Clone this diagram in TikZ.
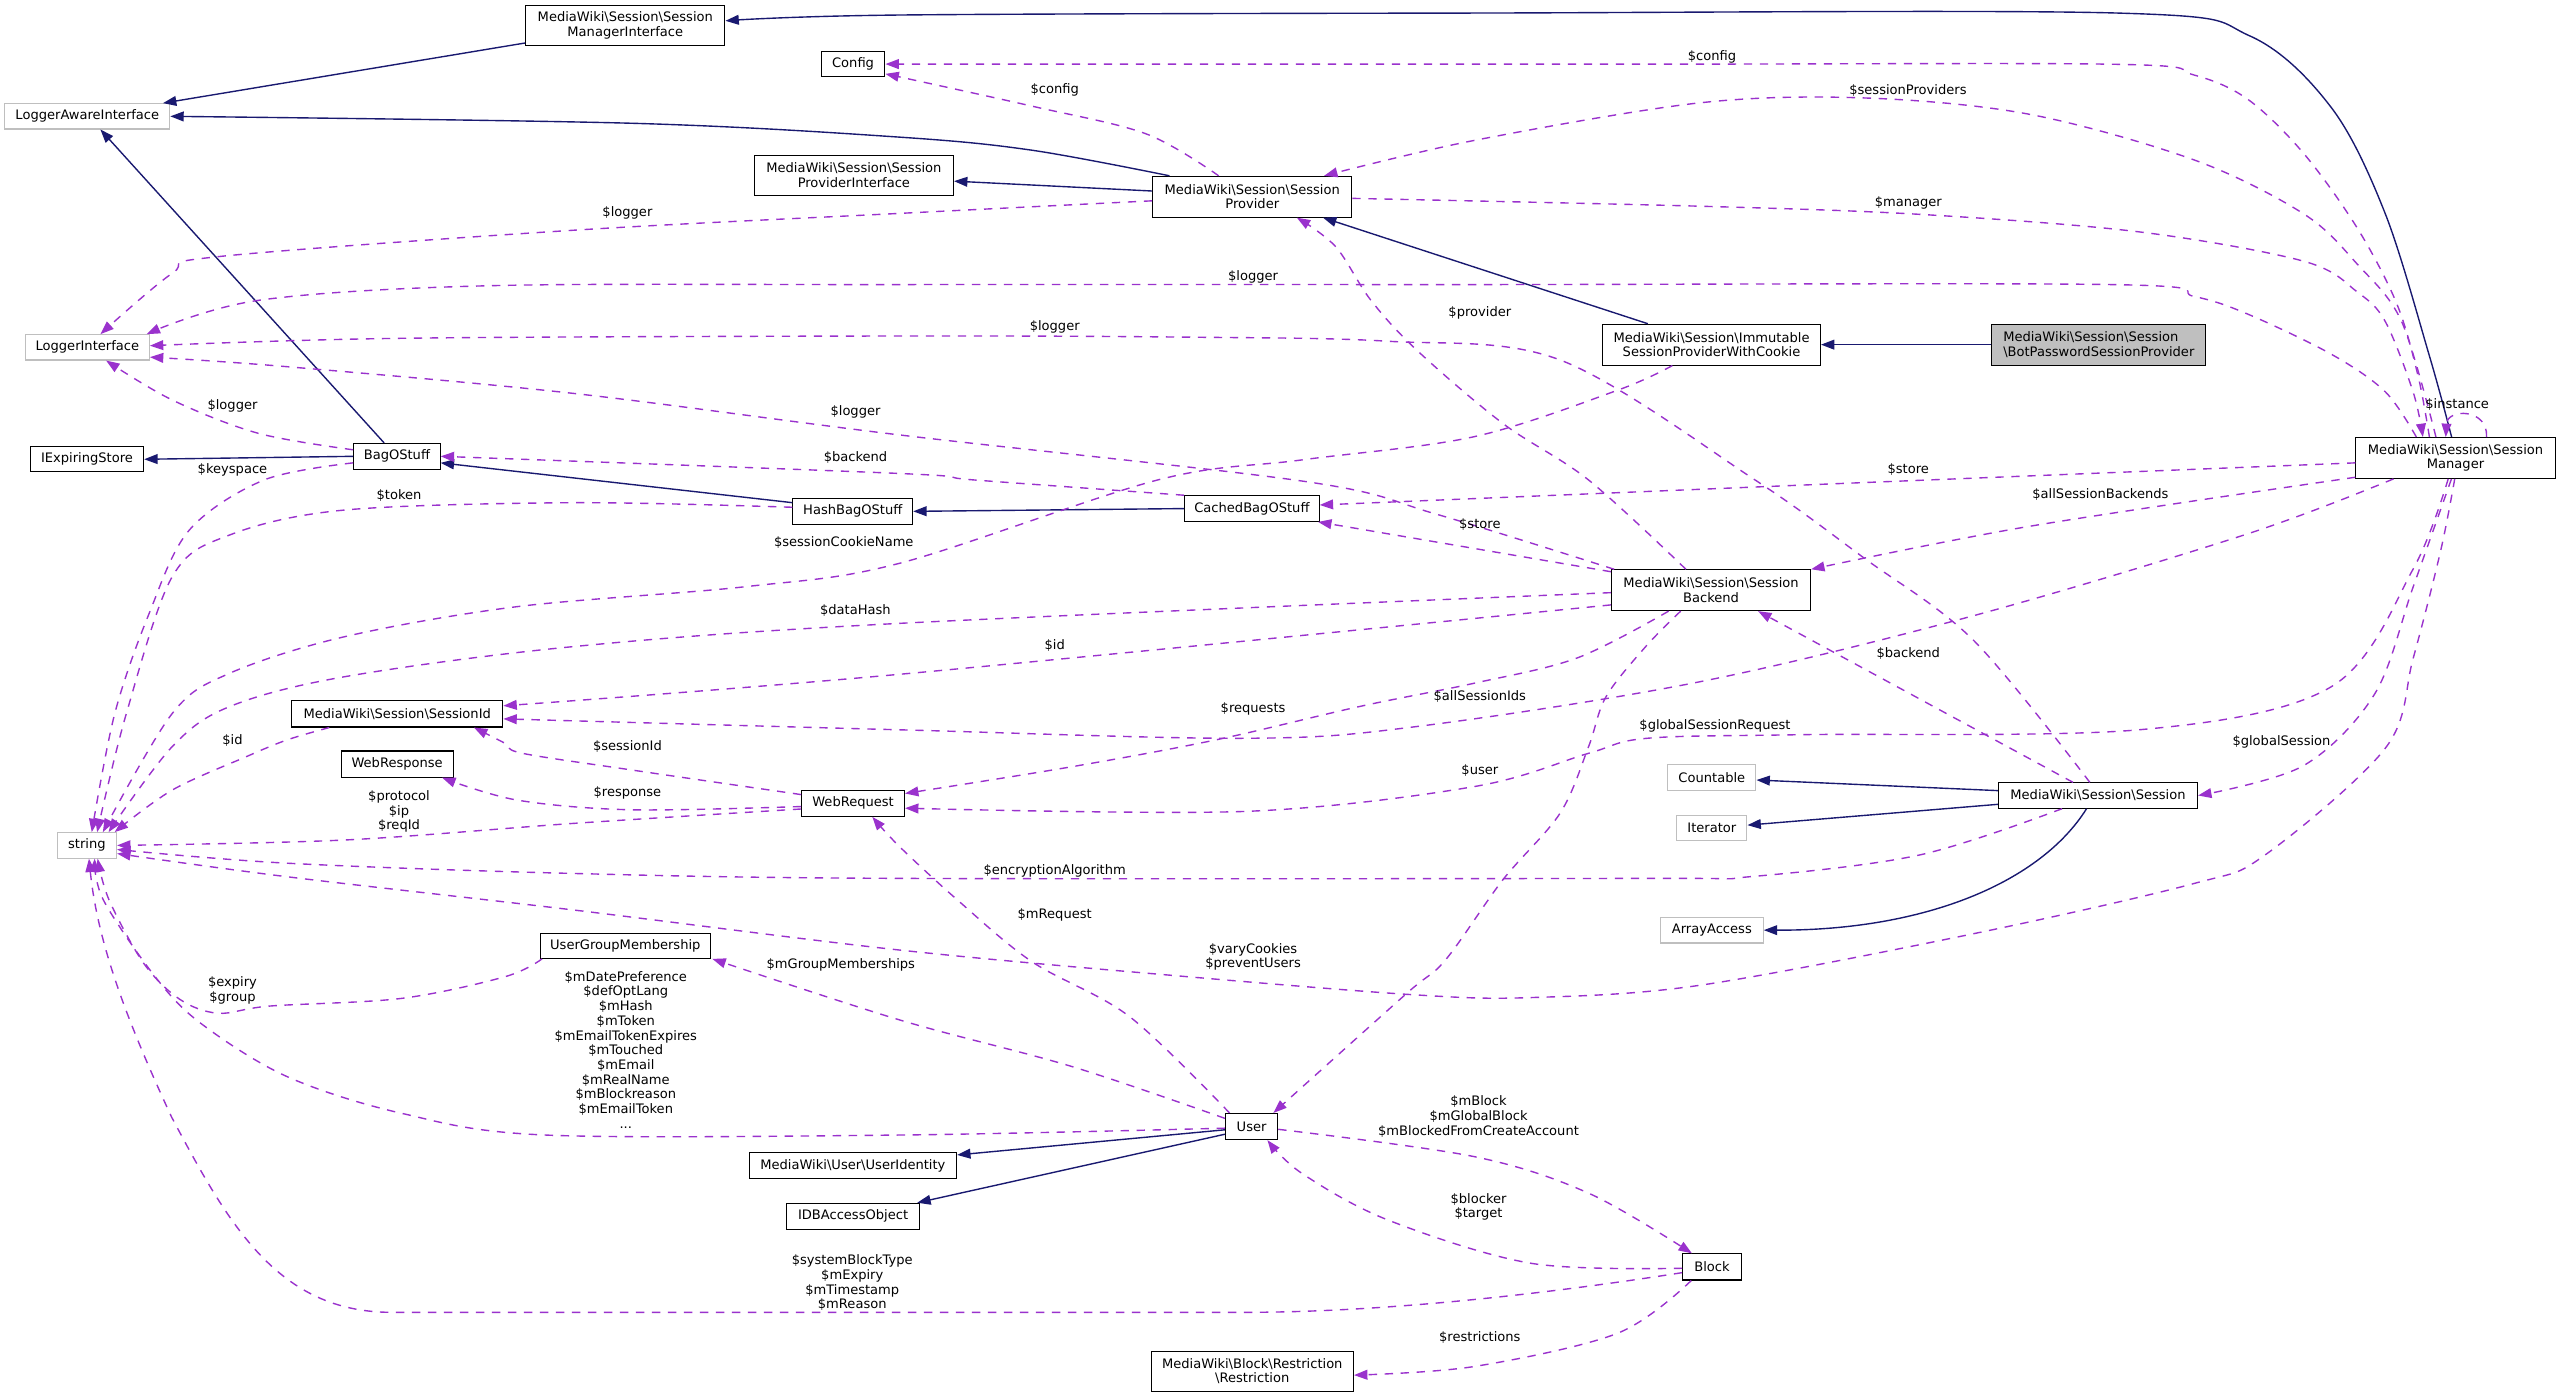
\documentclass[tikz,border=0pt]{standalone}
\usepackage{fontspec}
\setmainfont{DejaVu Sans}
\usetikzlibrary{arrows.meta,calc}
\definecolor{docnavy}{HTML}{191970}
\definecolor{docorchid}{HTML}{9A32CD}
\definecolor{docgray}{HTML}{BFBFBF}
\newcommand{\mybs}{\textbackslash}
\begin{document}
\begin{tikzpicture}[x=1pt,y=-1pt,
  cls/.style={draw=black, line width=0.65pt, fill=white, inner sep=0pt, align=center, font=\fontsize{8}{9}\selectfont},
  extcls/.style={cls, draw=docgray},
  lbl/.style={inner sep=0pt, align=center, font=\fontsize{8}{9}\selectfont},
  inh/.style={draw=docnavy, line width=0.85pt, -{Triangle[length=8.2pt,width=6pt]}},
  use/.style={draw=docorchid, line width=0.85pt, dash pattern=on 5.1pt off 4.7pt, -{Triangle[length=8.2pt,width=6pt]}},
  curvy/.style={smooth, tension=0.55}
]
\useasboundingbox (0,0) rectangle (1568,856);
\fill[white] (0,0) rectangle (1568,856);

% ---------- nodes ----------
\node[cls, minimum width=122pt, minimum height=24.5pt] (smi) at (383,15.75) {MediaWiki\mybs Session\mybs Session\\ManagerInterface};
\node[cls, minimum width=39pt, minimum height=15.5pt] (config) at (522.5,39.25) {Config};
\node[extcls, minimum width=101pt, minimum height=15.5pt] (lai) at (53.5,71.25) {LoggerAwareInterface};
\node[cls, minimum width=122pt, minimum height=24.5pt] (spi) at (523,107.25) {MediaWiki\mybs Session\mybs Session\\ProviderInterface};
\node[cls, minimum width=122pt, minimum height=25pt] (sp) at (767,120.5) {MediaWiki\mybs Session\mybs Session\\Provider};
\node[extcls, minimum width=76pt, minimum height=15.5pt] (li) at (53.5,212.75) {LoggerInterface};
\node[cls, minimum width=133.4pt, minimum height=25pt] (imm) at (1048.3,211.1) {MediaWiki\mybs Session\mybs Immutable\\SessionProviderWithCookie};
\node[cls, fill=docgray, align=left, minimum width=131pt, minimum height=25pt] (bot) at (1285.5,211.1) {MediaWiki\mybs Session\mybs Session\\\mybs BotPasswordSessionProvider};
\node[cls, minimum width=122pt, minimum height=25pt] (sm) at (1504,280.5) {MediaWiki\mybs Session\mybs Session\\Manager};
\node[cls, minimum width=69.4pt, minimum height=15.5pt] (ies) at (53.3,281.3) {IExpiringStore};
\node[cls, minimum width=53pt, minimum height=15.8pt] (bag) at (243.1,279.5) {BagOStuff};
\node[cls, minimum width=73.4pt, minimum height=16pt] (hash) at (522.3,313.2) {HashBagOStuff};
\node[cls, minimum width=82.4pt, minimum height=15.7pt] (cached) at (766.8,311.5) {CachedBagOStuff};
\node[cls, minimum width=122pt, minimum height=25pt] (sb) at (1048,361.5) {MediaWiki\mybs Session\mybs Session\\Backend};
\node[cls, minimum width=129.4pt, minimum height=16pt] (sid) at (243.3,437.3) {MediaWiki\mybs Session\mybs SessionId};
\node[cls, minimum width=68.5pt, minimum height=16pt] (wresp) at (243.25,468) {WebResponse};
\node[cls, minimum width=63pt, minimum height=16pt] (wreq) at (522.5,492) {WebRequest};
\node[extcls, minimum width=36.4pt, minimum height=15.6pt] (str) at (53.2,517.8) {string};
\node[extcls, minimum width=54pt, minimum height=15.5pt] (countable) at (1048.5,476.25) {Countable};
\node[extcls, minimum width=43pt, minimum height=15.5pt] (iterator) at (1048.5,507.3) {Iterator};
\node[extcls, minimum width=63pt, minimum height=15.8pt] (arrayaccess) at (1048.5,569.7) {ArrayAccess};
\node[cls, minimum width=122pt, minimum height=15.5pt] (session) at (1285,487.25) {MediaWiki\mybs Session\mybs Session};
\node[cls, minimum width=104pt, minimum height=15.5pt] (ugm) at (383,579.25) {UserGroupMembership};
\node[cls, minimum width=32pt, minimum height=16pt] (user) at (766.6,690) {User};
\node[cls, minimum width=127pt, minimum height=16pt] (uid) at (522.4,714) {MediaWiki\mybs User\mybs UserIdentity};
\node[cls, minimum width=81pt, minimum height=16pt] (idb) at (522.5,745) {IDBAccessObject};
\node[cls, minimum width=36pt, minimum height=16pt] (block) at (1048.6,776) {Block};
\node[cls, minimum width=124pt, minimum height=24.5pt] (restr) at (767,839.75) {MediaWiki\mybs Block\mybs Restriction\\\mybs Restriction};

% ---------- end points ----------
\coordinate (a0) at ($(sm.north)+(-2.4,0)$);
\coordinate (a1) at ($(smi.east)+(0,-3)$);
\coordinate (c0) at ($(sp.north west)+(10.6,0)$);
\coordinate (s1) at ($(sm.north)+(-16,0)$);
\coordinate (s2) at ($(sp.north)+(-20.6,0)$);
\coordinate (e2) at ($(config.east)+(0,6)$);
\coordinate (s3) at ($(sm.north)+(-12,0)$);
\coordinate (e3) at ($(sp.north)+(44,0)$);
\coordinate (s4) at ($(sp.east)+(0,1)$);
\coordinate (e4) at ($(sm.north)+(-20,0)$);
\coordinate (s5) at ($(sm.north)+(-24,0)$);
\coordinate (e5) at ($(li.north east)+(-2,0)$);
\coordinate (s6) at ($(sp.west)+(0,2.5)$);
\coordinate (e6) at ($(li.north)+(8,0)$);
\coordinate (s7) at ($(session.north)+(-5,0)$);
\coordinate (e7) at ($(li.east)+(0,-1)$);
\coordinate (s8) at ($(sb.north west)+(2,0)$);
\coordinate (e8) at ($(li.east)+(0,6)$);
\coordinate (s9) at ($(session.north)+(-15.3,0)$);
\coordinate (e9) at ($(sb.south east)+(-32.5,0)$);
\coordinate (s10) at ($(sb.north)+(-15.4,0)$);
\coordinate (e10) at ($(sp.south east)+(-34,0)$);
\coordinate (s11) at ($(sm.west)+(0,3)$);
\coordinate (e11) at ($(cached.east)+(0,-2.2)$);
\coordinate (s12) at ($(sb.north west)+(0,1.5)$);
\coordinate (e12) at ($(cached.south east)+(-1,0)$);
\coordinate (s13) at ($(sm.south west)+(0,-1)$);
\coordinate (s14) at ($(sm.south)+(-38,0)$);
\coordinate (e14) at ($(sid.east)+(0,3)$);
\coordinate (s15) at ($(sb.south)+(-26,0)$);
\coordinate (e15) at ($(wreq.east)+(0,-6)$);
\coordinate (s16) at ($(sm.south)+(-4.5,0)$);
\coordinate (e16) at ($(wreq.east)+(0,3)$);
\coordinate (s17) at ($(sm.south)+(-2.5,0)$);
\coordinate (s18) at ($(sm.south)+(-0.5,0)$);
\coordinate (e18) at ($(str.east)+(0,5)$);
\coordinate (s19) at ($(session.south)+(-22,0)$);
\coordinate (e19) at ($(str.east)+(0,2.5)$);
\coordinate (s20) at ($(wreq.west)+(0,3.5)$);
\coordinate (s21) at ($(wreq.west)+(0,2)$);
\coordinate (e21) at ($(wresp.south east)+(-7,0)$);
\coordinate (s22) at ($(wreq.north west)+(0,3)$);
\coordinate (e22) at ($(sid.south east)+(-18,0)$);
\coordinate (s23) at ($(sid.south west)+(23.4,0)$);
\coordinate (e23) at ($(str.north east)+(-1.5,0)$);
\coordinate (s24) at ($(sb.west)+(0,9)$);
\coordinate (e24) at ($(sid.east)+(0,-5)$);
\coordinate (s25) at ($(sb.west)+(0,1.5)$);
\coordinate (e25) at ($(str.north)+(13.3,0)$);
\coordinate (s26) at ($(imm.south)+(-24,0)$);
\coordinate (e26) at ($(str.north)+(9.8,0)$);
\coordinate (s27) at ($(hash.west)+(0,-2.5)$);
\coordinate (e27) at ($(str.north)+(6.3,0)$);
\coordinate (s28) at ($(bag.west)+(0,4)$);
\coordinate (e28) at ($(str.north)+(3,0)$);
\coordinate (s30) at ($(bag.west)+(0,-4)$);
\coordinate (e30) at ($(li.south)+(11.5,0)$);
\coordinate (s31) at ($(user.west)+(0,1)$);
\coordinate (e31) at ($(str.south)+(4.8,0)$);
\coordinate (s32) at ($(ugm.south west)+(1.3,0)$);
\coordinate (e32) at ($(str.south)+(6.6,0)$);
\coordinate (s33) at ($(block.west)+(0,3.5)$);
\coordinate (e33) at ($(str.south)+(1.3,0)$);
\coordinate (s34) at ($(user.north west)+(2.8,0)$);
\coordinate (e34) at ($(wreq.south)+(11.8,0)$);
\coordinate (s35) at ($(user.west)+(0,-5)$);
\coordinate (e35) at ($(ugm.south east)+(1,0)$);
\coordinate (s36) at ($(user.east)+(0,1.7)$);
\coordinate (e36) at ($(block.north)+(-12.3,0)$);
\coordinate (s37) at ($(block.west)+(0,0.8)$);
\coordinate (e37) at ($(user.south)+(9.7,0)$);
\coordinate (s38) at ($(block.south)+(-12.7,0)$);
\coordinate (e38) at ($(restr.east)+(0,2.5)$);
\coordinate (s39) at ($(sb.south)+(-18.6,0)$);
\coordinate (e39) at ($(user.north east)+(-3,0)$);

% ---------- inheritance (solid) ----------
\draw[inh] plot[curvy] coordinates {(a0) (1488,218) (1461,131) (1428,66) (1378,22) (1297,8) (900,8) (551,9.2) (a1)};
\draw[inh] ($(smi.south west)+(0,-2)$) -- ($(lai.north east)+(-4.5,0)$);
\draw[inh] plot[curvy] coordinates {(c0) (632,92) (551,84) (387,75.5) (lai.east)};
\draw[inh] ($(sp.west)+(0,-3.5)$) -- ($(spi.east)+(0,3.7)$);
\draw[inh] ($(imm.north west)+(28,0)$) -- ($(sp.south east)+(-18,0)$);
\draw[inh] (bot.west) -- (imm.east);
\draw[inh] ($(bag.north west)+(19,0)$) -- ($(lai.south)+(8,0)$);
\draw[inh] (bag.west) -- (ies.east);
\draw[inh] ($(hash.north west)+(0,3)$) -- ($(bag.east)+(0,4)$);
\draw[inh] (cached.west) -- (hash.east);
\draw[inh] ($(session.west)+(0,-3)$) -- ($(countable.east)+(0,1.5)$);
\draw[inh] ($(session.west)+(0,5.4)$) -- ($(iterator.east)+(0,-1.9)$);
\draw[inh] ($(session.south)+(-7,0)$) .. controls (1250,540) and (1180,570) .. (arrayaccess.east);
\draw[inh] ($(user.west)+(0,2)$) -- ($(uid.east)+(0,-6.6)$);
\draw[inh] ($(user.west)+(0,4.7)$) -- ($(idb.north east)+(-1.5,0)$);

% ---------- usage (dashed) ----------
\draw[use] plot[curvy] coordinates {(s1) (1481,230) (1468,186) (1444,140) (1411,94) (1377,61) (1344,46) (1297,39.4) (1000,39.3) (config.east)};
\draw[use] plot[curvy] coordinates {(s2) (702,82) (632,65) (e2)};
\draw[use] plot[curvy] coordinates {(s3) (1471,197) (1444,162) (1411,131) (1344,98) (1243,70) (1142,60) (1041,63) (903,86) (e3)};
\draw[use] plot[curvy] coordinates {(s4) (1041,126.3) (1176,131.3) (1310,142) (1411,160) (1444,179) (1461,197) (1478,240) (e4)};
\draw[use] plot[curvy] coordinates {(s5) (1461,240) (1428,217) (1377,192.5) (1344,181.6) (1293,174.3) (900,174.3) (551,174.3) (300,175) (158,184) (e5)};
\draw[use] plot[curvy] coordinates {(s6) (551,130.7) (351.6,141) (133.6,157.2) (105.5,167.4) (e6)};
\draw[use] plot[curvy] coordinates {(s7) (1209,392.4) (1142,342) (1075,294) (955.6,220.5) (850,209) (727,206.5) (551,205.8) (246,207.2) (e7)};
\draw[use] plot[curvy] coordinates {(s8) (880,315) (800,295) (551,266.4) (351.6,241) (175.8,224.6) (e8)};
\draw[use] (s9) -- (e9);
\draw[use] plot[curvy] coordinates {(s10) (973,294) (920.4,259.3) (867.7,214.4) (839.5,183.7) (818,151) (e10)};
\draw[use] plot[curvy] coordinates {(s11) (1175.6,294.2) (1041,299.7) (e11)};
\draw[use] (s12) -- (e12);
\draw[use] plot[curvy] coordinates {(s13) (1242.8,322.4) (sb.north east)};
\draw[use] plot[curvy] coordinates {(s14) (1377.2,326.8) (1209.2,377) (1041,417.6) (867.7,445) (762.2,452.2) (551,447) (e14)};
\draw[use] plot[curvy] coordinates {(s15) (966,403) (902.8,418.5) (832.4,432.8) (744.6,453.2) (656.6,469.6) (e15)};
\draw[use] plot[curvy] coordinates {(s16) (1478,348.6) (1427.6,420.8) (1310,447) (1102,450) (1008.8,452.2) (973,461.4) (902.8,481.8) (762.2,497) (e16)};
\draw[use] plot[curvy] coordinates {(s17) (1478,359.6) (1454.5,425) (1410.8,469) (session.east)};
\draw[use] plot[curvy] coordinates {(s18) (1494.8,337.7) (1478,403.4) (1461.2,458) (1387.3,523.7) (1343.6,541.2) (1209.2,571.8) (1041,603.5) (938,611) (867.7,609.4) (727,598.2) (551,581.9) (351.6,557.4) (175.8,537) (e18)};
\draw[use] plot[curvy] coordinates {(s19) (1175.6,523.7) (1071.6,537) (1008.3,538) (551,538) (351.6,535) (175.8,528.7) (e19)};
\draw[use] plot[curvy] coordinates {(s20) (351.6,504.3) (211,514.5) (str.east)};
\draw[use] plot[curvy] coordinates {(s21) (386.8,496) (316.5,490) (e21)};
\draw[use] plot[curvy] coordinates {(s22) (386.8,471.6) (320,461.4) (309.4,455.3) (e22)};
\draw[use] plot[curvy] coordinates {(s23) (175.8,453.2) (151,463.4) (105.5,483.9) (e23)};
\draw[use] plot[curvy] coordinates {(s24) (551,413) (e24)};
\draw[use] plot[curvy] coordinates {(s25) (551,381.8) (351.6,396) (211,414.5) (140.6,432.8) (105.5,457.3) (e25)};
\draw[use] plot[curvy] coordinates {(s26) (990.8,239) (902.8,267.5) (797.3,281.7) (709,294) (551,345) (457,359.3) (316.5,371.6) (211,390) (140.6,412.4) (105.5,437) (e26)};
\draw[use] plot[curvy] coordinates {(s27) (351.6,307.9) (211,312.4) (140.6,327.7) (105.5,353.2) (77.4,437) (e27)};
\draw[use] plot[curvy] coordinates {(s28) (161.7,294) (116,324.6) (91.4,375.6) (70.3,437) (e28)};
\draw[use] plot[curvy] coordinates {(cached.north west) (597,294) (551,290) (bag.east)};
\draw[use] plot[curvy] coordinates {(s30) (158.2,265.4) (105.5,245) (e30)};
\draw[use] plot[curvy] coordinates {(s31) (551,695.2) (334,695.2) (246,681.9) (175.8,659.4) (123,626.8) (95,598.2) (63.3,551.2) (e31)};
\draw[use] plot[curvy] coordinates {(s32) (309.4,598.2) (246,611.5) (165.3,616.2) (133.6,620.6) (110,612) (88,590) (66.8,551.2) (e32)};
\draw[use] (s33) .. controls (950,792) and (850,803.8) .. (762,803.8) -- (240,803.8) .. controls (170,803.8) and (140,750) .. (105,684) .. controls (80,630) and (60,580) .. (e33);
\draw[use] plot[curvy] coordinates {(s34) (691.9,622.7) (632,589) (586.4,551.2) (551,518.6) (e34)};
\draw[use] plot[curvy] coordinates {(s35) (656.7,653.3) (551,624.7) (e35)};
\draw[use] plot[curvy] coordinates {(s36) (902.8,708.4) (973.2,730.9) (e36)};
\draw[use] plot[curvy] coordinates {(s37) (938,773.8) (850,747.2) (797.3,718.6) (e37)};
\draw[use] plot[curvy] coordinates {(s38) (990.8,816.6) (902.8,837) (e38)};
\draw[use] plot[curvy] coordinates {(s39) (1008,396) (983.7,426.7) (973,457.3) (955.6,498) (920.4,539) (885.3,588) (860.5,609.4) (e39)};
\draw[use] ($(sm.north)+(19,0)$) .. controls (1524,250) and (1499,250) .. ($(sm.north)+(-6,0)$);

% ---------- labels ----------
\node[lbl] (l1) at (1048.6,34.7) {\$config};
\node[lbl] (l2) at (646,55) {\$config};
\node[lbl] (l3) at (1168.6,55.3) {\$sessionProviders};
\node[lbl] (l4) at (1168.8,124.3) {\$manager};
\node[lbl] (l5) at (767.5,169.5) {\$logger};
\node[lbl] (l6) at (384.3,130.7) {\$logger};
\node[lbl] (l7) at (646,200) {\$logger};
\node[lbl] (l8) at (906.4,191.5) {\$provider};
\node[lbl] (l9) at (1505,247.8) {\$instance};
\node[lbl] (l10) at (142.4,248.7) {\$logger};
\node[lbl] (l11) at (524,252.5) {\$logger};
\node[lbl] (l12) at (524,280.3) {\$backend};
\node[lbl] (l13) at (142.4,287.9) {\$keyspace};
\node[lbl] (l14) at (1168.8,287.6) {\$store};
\node[lbl] (l15) at (244.4,303.2) {\$token};
\node[lbl] (l16) at (1286.5,302.7) {\$allSessionBackends};
\node[lbl] (l17) at (906.4,321) {\$store};
\node[lbl] (l18) at (516.8,332.4) {\$sessionCookieName};
\node[lbl] (l19) at (523.9,374) {\$dataHash};
\node[lbl] (l20) at (646,395.5) {\$id};
\node[lbl] (l21) at (1168.8,400) {\$backend};
\node[lbl] (l22) at (906.4,426.7) {\$allSessionIds};
\node[lbl] (l23) at (767.5,434.3) {\$requests};
\node[lbl] (l24) at (1050.4,444.5) {\$globalSessionRequest};
\node[lbl] (l25) at (142.4,453.8) {\$id};
\node[lbl] (l26) at (1397.4,454.3) {\$globalSession};
\node[lbl] (l27) at (384.3,457.3) {\$sessionId};
\node[lbl] (l28) at (906.4,472) {\$user};
\node[lbl] (l29) at (384.3,485.5) {\$response};
\node[lbl] (l30) at (244.4,497) {\$protocol\\\$ip\\\$reqId};
\node[lbl] (l31) at (646,533.3) {\$encryptionAlgorithm};
\node[lbl] (l32) at (646,560.2) {\$mRequest};
\node[lbl] (l33) at (767.5,586) {\$varyCookies\\\$preventUsers};
\node[lbl] (l34) at (515,591) {\$mGroupMemberships};
\node[lbl] (l35) at (142.4,606.7) {\$expiry\\\$group};
\node[lbl] (l36) at (383.3,643) {\$mDatePreference\\\$defOptLang\\\$mHash\\\$mToken\\\$mEmailTokenExpires\\\$mTouched\\\$mEmail\\\$mRealName\\\$mBlockreason\\\$mEmailToken\\...};
\node[lbl] (l37) at (905.6,683.8) {\$mBlock\\\$mGlobalBlock\\\$mBlockedFromCreateAccount};
\node[lbl] (l38) at (905.6,739.2) {\$blocker\\\$target};
\node[lbl] (l39) at (522,785.7) {\$systemBlockType\\\$mExpiry\\\$mTimestamp\\\$mReason};
\node[lbl] (l40) at (906.4,819.3) {\$restrictions};
\end{tikzpicture}
\end{document}
